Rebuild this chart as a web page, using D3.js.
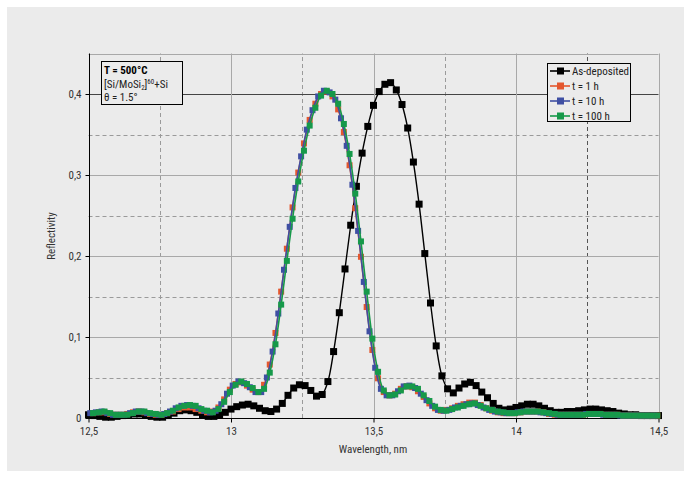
<!DOCTYPE html>
<html><head><meta charset="utf-8">
<script src="https://cdn.jsdelivr.net/npm/d3@7"></script>
<style>
html,body{margin:0;padding:0;background:#fff;}
svg{display:block;}
text{font-family:"Liberation Sans Narrow","Roboto Condensed","Liberation Sans",Arial,sans-serif;}
</style></head>
<body>
<script>
// ---------------- data ----------------
const wavelength = [12.50,12.52,12.54,12.56,12.58,12.60,12.62,12.64,12.66,12.68,12.70,12.72,12.74,12.76,12.78,12.80,12.82,12.84,12.86,12.88,
12.90,12.92,12.94,12.96,12.98,13.00,13.02,13.04,13.06,13.08,13.10,13.12,13.14,13.16,13.18,13.20,13.22,13.24,13.26,13.28,
13.30,13.32,13.34,13.36,13.38,13.40,13.42,13.44,13.46,13.48,13.50,13.52,13.54,13.56,13.58,13.60,13.62,13.64,13.66,13.68,
13.70,13.72,13.74,13.76,13.78,13.80,13.82,13.84,13.86,13.88,13.90,13.92,13.94,13.96,13.98,14.00,14.02,14.04,14.06,14.08,
14.10,14.12,14.14,14.16,14.18,14.20,14.22,14.24,14.26,14.28,14.30,14.32,14.34,14.36,14.38,14.40,14.42,14.44,14.46,14.48,14.50];
const wavelengthBlue = [12.506,12.526,12.546,12.566,12.586,12.606,12.626,12.646,12.666,12.686,12.706,12.726,12.746,12.766,12.786,12.806,12.826,12.846,12.866,12.886,
12.906,12.926,12.946,12.966,12.986,13.006,13.026,13.046,13.066,13.086,13.106,13.126,13.146,13.166,13.186,13.206,13.226,13.246,13.266,13.286,
13.306,13.326,13.346,13.366,13.386,13.406,13.426,13.446,13.466,13.486,13.506,13.526,13.546,13.566,13.586,13.606,13.626,13.646,13.666,13.686,
13.706,13.726,13.746,13.766,13.786,13.806,13.826,13.846,13.866,13.886,13.906,13.926,13.946,13.966,13.986,14.006,14.026,14.046,14.066,14.086,
14.106,14.126,14.146,14.166,14.186,14.206,14.226,14.246,14.266,14.286,14.306,14.326,14.346,14.366,14.386,14.406,14.426,14.446,14.466,14.486];
const wavelengthRG = [12.516,12.536,12.556,12.576,12.596,12.616,12.636,12.656,12.676,12.696,12.716,12.736,12.756,12.776,12.796,12.816,12.836,12.856,12.876,12.896,
12.916,12.936,12.956,12.976,12.996,13.016,13.036,13.056,13.076,13.096,13.116,13.136,13.156,13.176,13.196,13.216,13.236,13.256,13.276,13.296,
13.316,13.336,13.356,13.376,13.396,13.416,13.436,13.456,13.476,13.496,13.516,13.536,13.556,13.576,13.596,13.616,13.636,13.656,13.676,13.696,
13.716,13.736,13.756,13.776,13.796,13.816,13.836,13.856,13.876,13.896,13.916,13.936,13.956,13.976,13.996,14.016,14.036,14.056,14.076,14.096,
14.116,14.136,14.156,14.176,14.196,14.216,14.236,14.256,14.276,14.296,14.316,14.336,14.356,14.376,14.396,14.416,14.436,14.456,14.476,14.496];

const asDeposited = [.004,.003,.002,.001,.001,.002,.003,.004,.005,.005,.004,.002,.001,.001,.003,.006,.009,.010,.009,.007,
.004,.002,.002,.004,.007,.011,.014,.016,.017,.015,.012,.009,.008,.011,.018,.028,.037,.041,.040,.034,
.027,.029,.045,.082,.130,.184,.238,.286,.327,.360,.386,.403,.412,.414,.405,.387,.358,.316,.264,.203,
.142,.089,.052,.036,.031,.037,.042,.044,.040,.032,.025,.018,.012,.010,.011,.013,.015,.017,.017,.015,
.012,.009,.007,.007,.008,.008,.009,.010,.011,.011,.010,.009,.008,.006,.005,.004,.004,.003,.003,.003,.003];

const t1h = [.006,.007,.007,.005,.004,.004,.005,.007,.008,.007,.005,.004,.004,.006,.008,.011,.013,.013,.011,.009,
.007,.008,.013,.023,.035,.042,.044,.040,.035,.032,.041,.066,.105,.156,.209,.260,.303,.339,.368,.388,
.400,.403,.397,.381,.353,.312,.259,.199,.137,.084,.049,.032,.028,.030,.036,.039,.038,.033,.026,.018,
.012,.009,.010,.012,.015,.017,.019,.019,.016,.012,.009,.007,.006,.006,.006,.007,.008,.008,.008,.007,
.005,.004,.004,.004,.004,.004,.004,.005,.005,.005,.004,.004,.004,.003,.003,.003,.003,.003,.003,.003];

const t10h = [.006,.007,.008,.006,.004,.004,.004,.006,.008,.008,.006,.005,.004,.005,.008,.012,.015,.016,.015,.012,
.009,.007,.009,.017,.030,.040,.045,.043,.038,.032,.032,.050,.082,.129,.183,.236,.284,.323,.356,.380,
.397,.404,.402,.393,.370,.336,.288,.231,.168,.107,.062,.036,.028,.028,.033,.039,.040,.037,.030,.022,
.015,.010,.009,.010,.013,.015,.017,.018,.016,.013,.010,.008,.007,.006,.006,.007,.008,.008,.008,.007,
.006,.005,.004,.004,.004,.004,.004,.005,.005,.005,.004,.004,.004,.003,.003,.003,.003,.003,.003,.003];

const t100h = [.006,.007,.008,.006,.004,.004,.004,.006,.008,.008,.006,.005,.004,.006,.009,.013,.015,.016,.015,.011,
.009,.007,.011,.020,.032,.041,.045,.042,.037,.032,.036,.056,.091,.140,.194,.246,.292,.330,.361,.383,
.398,.404,.400,.388,.363,.326,.277,.218,.156,.098,.057,.034,.028,.029,.034,.039,.039,.036,.028,.021,
.014,.010,.009,.011,.013,.015,.017,.018,.015,.012,.010,.008,.007,.006,.006,.007,.008,.008,.008,.007,
.006,.005,.004,.004,.004,.004,.004,.005,.005,.005,.004,.004,.004,.003,.003,.003,.003,.003,.003,.003];

const seriesNames = ["As-deposited","t = 1 h","t = 10 h","t = 100 h"];
const seriesColors = ["#000000","#e4572e","#3f4fa3","#16994a"];
const xTicks = [12.5,13,13.5,14,14.5];
const yTicks = [0,0.1,0.2,0.3,0.4];
const xMinorGrid = [12.75,13.25,13.75,14.25];
const yMinorGrid = [0.05,0.15,0.25,0.35];
const xLabel = "Wavelength, nm";
const yLabel = "Reflectivity";

// ---------------- chart ----------------
const W = 691, H = 479;
const bg = "#ebebeb";
const svg = d3.select("body").append("svg").attr("width",W).attr("height",H);
svg.append("rect").attr("x",7).attr("y",7).attr("width",677).attr("height",464).attr("fill",bg);

const x = d3.scaleLinear().domain([12.5,14.5]).range([88.5,658.5]);
const y = d3.scaleLinear().domain([0,0.45]).range([418,53.5]);
const fmt = d => d===0 ? "0" : String(d).replace(".",",");

const grid = svg.append("g");
// minor dashed
grid.selectAll(".hm").data(yMinorGrid).join("line")
  .attr("x1",x(12.5)).attr("x2",x(14.5)).attr("y1",d=>Math.round(y(d))+0.5).attr("y2",d=>Math.round(y(d))+0.5)
  .attr("stroke","#9a9a9a").attr("stroke-dasharray","4,3").attr("stroke-width",1);
grid.selectAll(".vm").data(xMinorGrid).join("line")
  .attr("y1",y(0)).attr("y2",y(0.45)).attr("x1",d=>Math.round(x(d))+0.5).attr("x2",d=>Math.round(x(d))+0.5)
  .attr("stroke",d=>d===14.25?"#555":"#9a9a9a").attr("stroke-dasharray","4,3").attr("stroke-width",1);
// major solid
grid.selectAll(".hM").data([0.1,0.2,0.3,0.4,0.45]).join("line")
  .attr("x1",x(12.5)).attr("x2",x(14.5)).attr("y1",d=>Math.round(y(d))+0.5).attr("y2",d=>Math.round(y(d))+0.5)
  .attr("stroke",d=>d===0.4?"#444":"#a8a8a8").attr("stroke-width",1);
grid.selectAll(".vM").data([13,13.5,14,14.5]).join("line")
  .attr("y1",y(0)).attr("y2",y(0.45)).attr("x1",d=>Math.round(x(d))+0.5).attr("x2",d=>Math.round(x(d))+0.5)
  .attr("stroke","#a8a8a8").attr("stroke-width",1);

// axes
const xAxis = d3.axisBottom(x).tickValues(xTicks).tickFormat(fmt).tickSize(4).tickPadding(5);
const yAxis = d3.axisLeft(y).tickValues(yTicks).tickFormat(fmt).tickSize(4).tickPadding(4);
const gx = svg.append("g").attr("transform",`translate(0,${Math.round(y(0))+0.5})`).call(xAxis);
const gy = svg.append("g").attr("transform",`translate(${Math.round(x(12.5))+0.5},0)`).call(yAxis);
gx.select(".domain").attr("d",`M${x(12.5)},0H${x(14.5)}`).attr("stroke","#000");
gy.select(".domain").attr("d",`M0,${y(0)}V${y(0.45)}`).attr("stroke","#000");
[gx,gy].forEach(g=>{g.selectAll("text").attr("font-size",11).attr("fill","#333");g.selectAll(".tick line").attr("stroke","#000");});

svg.append("text").attr("x",373).attr("y",453).attr("text-anchor","middle").attr("font-size",11).attr("fill","#333").text(xLabel);
svg.append("text").attr("transform","translate(55,236) rotate(-90)").attr("text-anchor","middle").attr("font-size",11).attr("fill","#333").text(yLabel);

// series
const series = [
  {xs:wavelength, ys:asDeposited, size:7, lw:1.4},
  {xs:wavelengthRG, ys:t1h, size:6, lw:1.6},
  {xs:wavelengthBlue, ys:t10h, size:6, lw:1.6},
  {xs:wavelengthRG, ys:t100h, size:6, lw:1.6}
];
const line = d3.line().x(d=>x(d[0])).y(d=>y(d[1])).curve(d3.curveCatmullRom.alpha(0.5));
const plot = svg.append("g");
series.forEach((s,i)=>{
  const pts = s.xs.map((v,j)=>[v,s.ys[j]]);
  const g = plot.append("g");
  g.append("path").attr("d",line(pts)).attr("fill","none").attr("stroke",seriesColors[i]).attr("stroke-width",s.lw);
  g.selectAll("rect").data(pts).join("rect")
    .attr("x",d=>x(d[0])-s.size/2).attr("y",d=>y(d[1])-s.size/2)
    .attr("width",s.size).attr("height",s.size).attr("fill",seriesColors[i]);
});

// annotation box
const ann = svg.append("g");
ann.append("rect").attr("x",101.5).attr("y",61.5).attr("width",81).attr("height",43).attr("fill",bg).attr("stroke","#000").attr("stroke-width",1);
ann.append("text").attr("x",104).attr("y",74).attr("font-size",11).attr("font-weight","bold").attr("fill","#000").text("T = 500°C");
const t2 = ann.append("text").attr("x",104).attr("y",88).attr("font-size",11).attr("fill","#222");
t2.append("tspan").text("[Si/MoSi");
t2.append("tspan").attr("font-size",7).attr("dy",2).text("2");
t2.append("tspan").attr("dy",-2).text("]");
t2.append("tspan").attr("font-size",7).attr("dy",-4).text("60");
t2.append("tspan").attr("dy",4).text("+Si");
ann.append("text").attr("x",104).attr("y",101).attr("font-size",11).attr("fill","#222").text("θ = 1.5°");

// legend
const leg = svg.append("g");
leg.append("rect").attr("x",547.5).attr("y",63.5).attr("width",83).attr("height",58).attr("fill",bg).attr("stroke","#000").attr("stroke-width",1);
seriesNames.forEach((n,i)=>{
  const yy = 71 + i*15;
  leg.append("line").attr("x1",550).attr("x2",570).attr("y1",yy).attr("y2",yy).attr("stroke",seriesColors[i]).attr("stroke-width",1.6);
  leg.append("rect").attr("x",557).attr("y",yy-3.5).attr("width",7).attr("height",7).attr("fill",seriesColors[i]);
  leg.append("text").attr("x",572).attr("y",yy+4).attr("font-size",11).attr("fill","#222").text(n);
});
</script>
</body></html>
